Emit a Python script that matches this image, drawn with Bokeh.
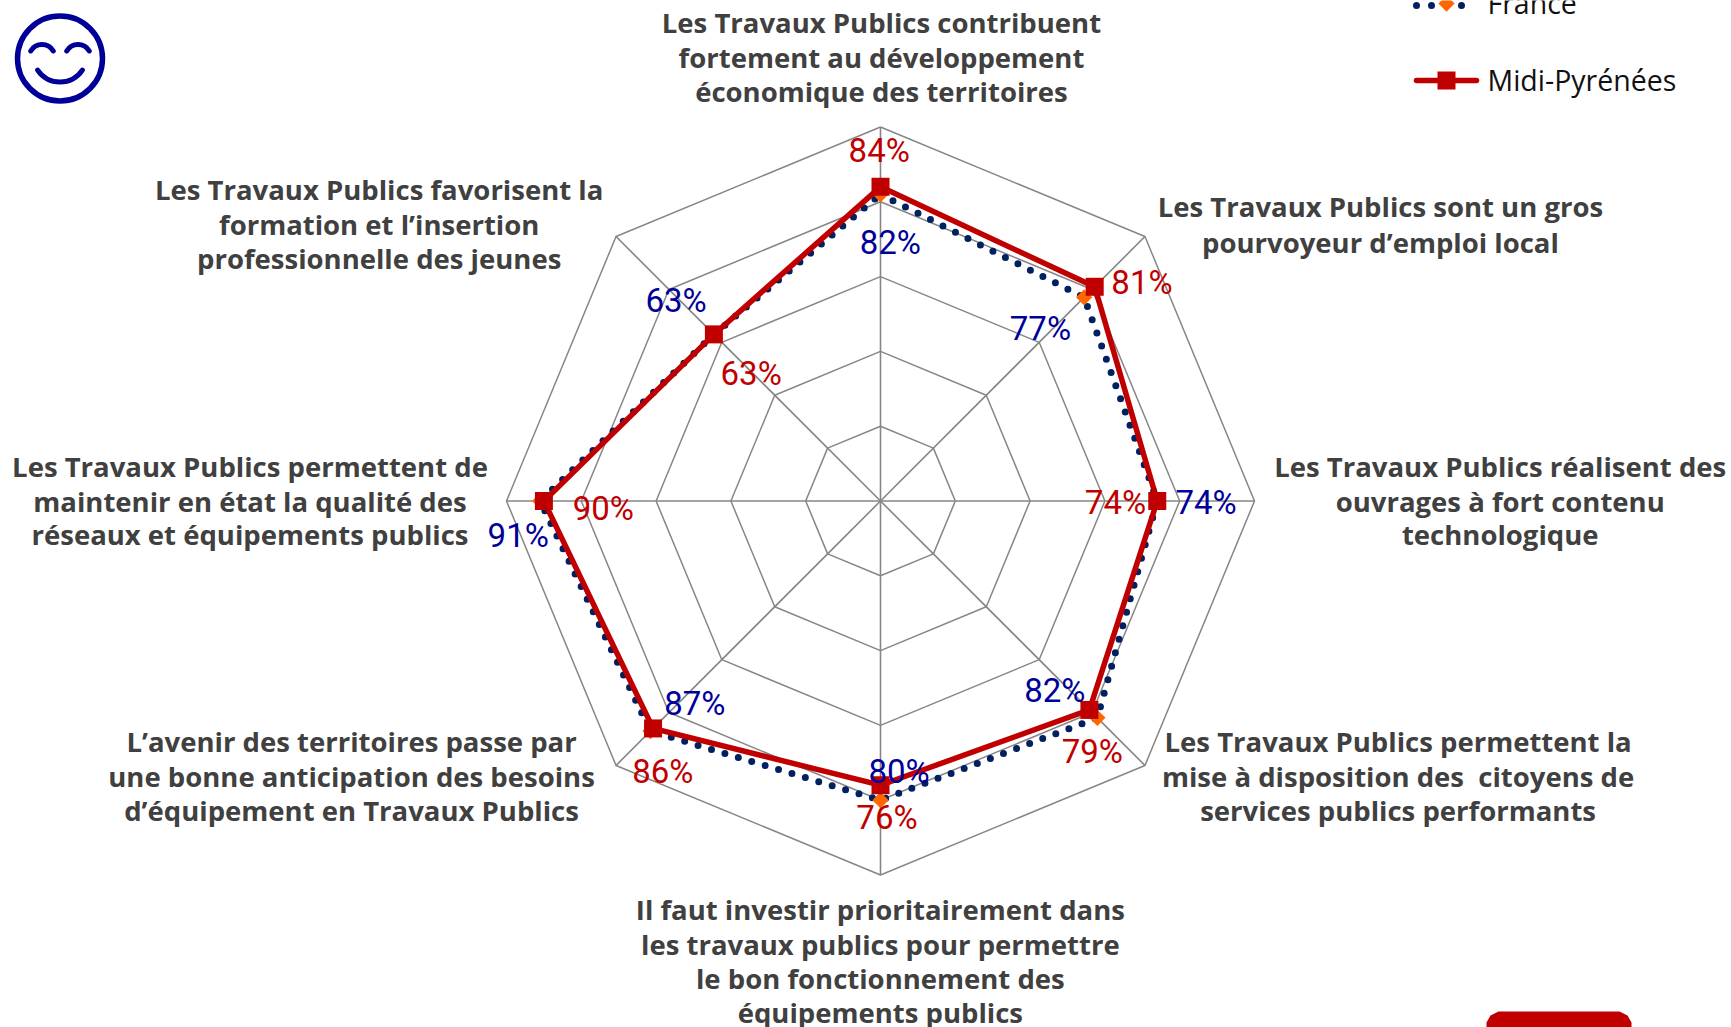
import math
from bokeh.plotting import figure
from bokeh.models import Range1d
from bokeh.core.properties import value
from bokeh.embed import file_html
from bokeh.resources import INLINE

# ---- data ----
categories = [
    ["Les Travaux Publics contribuent", "fortement au développement", "économique des territoires"],
    ["Les Travaux Publics sont un gros", "pourvoyeur d’emploi local"],
    ["Les Travaux Publics réalisent des", "ouvrages à fort contenu", "technologique"],
    ["Les Travaux Publics permettent la", "mise à disposition des\u00a0 citoyens de", "services publics performants"],
    ["Il faut investir prioritairement dans", "les travaux publics pour permettre", "le bon fonctionnement des", "équipements publics"],
    ["L’avenir des territoires passe par", "une bonne anticipation des besoins", "d’équipement en Travaux Publics"],
    ["Les Travaux Publics permettent de", "maintenir en état la qualité des", "réseaux et équipements publics"],
    ["Les Travaux Publics favorisent la", "formation et l’insertion", "professionnelle des jeunes"],
]
france = [82, 77, 74, 82, 80, 87, 91, 63]
midi = [84, 81, 74, 79, 76, 86, 90, 63]
rings = [20, 40, 60, 80, 100]
series_names = ["France", "Midi-Pyrénées"]

# ---- layout (reference pixels) ----
CX, CY, PX = 880.0, 500.5, 3.74
S = 1731 / 1568
def dx(x): return (x - CX) / PX
def dy(y): return (CY - y) / PX
def polar(v, i):
    a = math.radians(45 * i)
    return v * math.sin(a), v * math.cos(a)

label_xy = [(798, [20, 52, 82]), (1250, [187, 219]), (1358.5, [422, 454, 484]),
            (1266, [671, 703, 734]), (797, [823, 855, 886, 917]), (318, [671, 703, 734]),
            (226, [422, 454, 484]), (343, [171, 203, 234])]
france_xy = [(806, 219), (942, 297), (1092, 455), (955, 625), (814, 698), (629, 637), (469, 485), (612, 272)]
midi_xy = [(796, 136), (1034, 255), (1010, 455), (989, 680), (803, 740), (600, 698), (546, 460), (680, 338)]

p = figure(width=1731, height=1027, output_backend="svg", toolbar_location=None,
           x_range=Range1d(dx(0), dx(1731)), y_range=Range1d(dy(1027), dy(0)),
           min_border=0, outline_line_color=None)
p.axis.visible = False
p.grid.visible = False
p.background_fill_color = "white"

GREY = "#868686"
for r in rings:
    pts = [polar(r, i) for i in range(9)]
    p.line([a for a, b in pts], [b for a, b in pts], line_color=GREY, line_width=1.5)
for i in range(8):
    a, b = polar(rings[-1], i)
    p.line([0, a], [0, b], line_color=GREY, line_width=1.6)

def closed(vals):
    pts = [polar(v, i) for i, v in enumerate(vals)]
    pts.append(pts[0])
    return [a for a, b in pts], [b for a, b in pts]

fx, fy = closed(france)
mx, my = closed(midi)
p.line(fx, fy, line_color="#002060", line_width=7, line_dash="0 14", line_cap="round")
p.scatter(fx[:-1], fy[:-1], marker="square", angle=math.pi / 4, size=11.5, fill_color="#FF6600", line_color=None)
p.line(mx, my, line_color="#C00000", line_width=5.5, line_join="miter")
p.scatter(mx[:-1], my[:-1], marker="square", size=18, fill_color="#C00000", line_color=None)

# category labels
xs, ys, ts = [], [], []
for lines, (x, yl) in zip(categories, label_xy):
    for t, y in zip(lines, yl):
        xs.append(dx(x * S)); ys.append(dy(y * S)); ts.append(t)
p.text(xs, ys, text=ts, text_font=value("Open Sans"), text_font_size="27.5px", text_font_style="bold",
       text_color="#404040", text_align="center", text_baseline="middle")

# value labels
for vals, xy, col in ((france, france_xy, "#000099"), (midi, midi_xy, "#C00000")):
    p.text([dx(a * S) for a, b in xy], [dy(b * S) for a, b in xy], text=[f"{v}%" for v in vals],
           text_font=value("Roboto"), text_font_size="33px", text_color=col,
           text_align="center", text_baseline="middle")

# legend
p.line([dx(1416), dx(1476)], [dy(5)] * 2, line_color="#002060", line_width=7, line_dash="0 15", line_cap="round")
p.scatter([dx(1446)], [dy(3)], marker="square", angle=math.pi / 4, size=11.5, fill_color="#FF6600", line_color=None)
p.line([dx(1416), dx(1476)], [dy(80)] * 2, line_color="#C00000", line_width=5.5, line_cap="round")
p.scatter([dx(1446)], [dy(80)], marker="square", size=18, fill_color="#C00000", line_color=None)
p.text([dx(1487)] * 2, [dy(2), dy(79)], text=series_names, text_font=value("Open Sans"),
       text_font_size="28.5px", text_color="#111111", text_align="left", text_baseline="middle")

# smiley
BLUE = "#000099"
p.circle([dx(59.5)], [dy(58)], radius=42.5 / PX, fill_color=None, line_color=BLUE, line_width=5.5)
p.arc([dx(41.5), dx(77.5)], [dy(57), dy(57)], radius=13 / PX, start_angle=math.radians(30), end_angle=math.radians(150),
      line_color=BLUE, line_width=5, line_cap="round")
p.arc([dx(59.5)], [dy(54.5)], radius=27 / PX, start_angle=math.radians(214), end_angle=math.radians(326),
      line_color=BLUE, line_width=5, line_cap="round")

# red tab, bottom right
p.patch([dx(x) for x in (1486, 1486, 1490, 1498, 1619, 1627, 1631, 1631)],
        [dy(y) for y in (1030, 1022, 1015, 1011, 1011, 1015, 1022, 1030)],
        fill_color="#C00000", line_color=None)

open("out.html", "w").write(file_html(p, INLINE))
